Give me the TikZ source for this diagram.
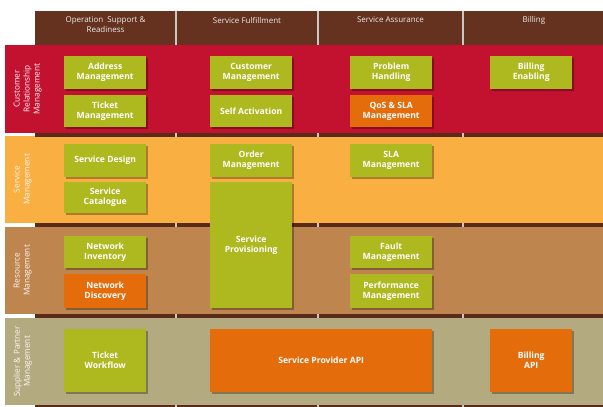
\documentclass[tikz,border=0pt]{standalone}
\usepackage{fontspec}
\setmainfont{Open Sans}
\usetikzlibrary{shadows}
\definecolor{hdrbrown}{HTML}{65321F}
\definecolor{linebrown}{HTML}{5A2A1A}
\definecolor{sepgray}{HTML}{C8C8C8}
\definecolor{crmred}{HTML}{C3122F}
\definecolor{smorange}{HTML}{FAAF42}
\definecolor{rmbrown}{HTML}{BE854F}
\definecolor{spkhaki}{HTML}{B3AB7F}
\definecolor{boxgreen}{HTML}{AEB81F}
\definecolor{boxorange}{HTML}{E46C0B}

\begin{document}
\begin{tikzpicture}[x=1pt,y=-1pt,
  box/.style={anchor=north west, minimum width=82pt, inner sep=1pt, align=center,
    text=white, font=\bfseries\fontsize{8.6}{10}\selectfont,
    drop shadow={shadow xshift=1.5pt, shadow yshift=-1.5pt, fill=black, opacity=0.3}},
  gbox/.style={box, fill=boxgreen},
  obox/.style={box, fill=boxorange},
  colhead/.style={text=white!92!black, align=center, font=\fontsize{8}{10}\selectfont},
  rowlbl/.style={rotate=90, anchor=north, inner sep=1pt, align=center,
    text=white!88!pink, font=\fontsize{8.2}{10}\selectfont}]
\useasboundingbox (0,0) rectangle (603,407);

% header
\fill[hdrbrown] (35,11) rectangle (603,45);
\foreach \x in {176,318,463}{
\draw[sepgray, line width=1.5pt] (\x,11)--(\x,45);
}
\node[colhead] (hops) at (105.5,25) {Operation\ \ Support \&\\Readiness};
\node[colhead] (hful) at (247,20) {Service Fulfillment};
\node[colhead] (hass) at (390.5,20) {Service Assurance};
\node[colhead] (hbil) at (534,20) {Billing};

% rows
\foreach \ytop/\ybot/\col in {45/133/crmred, 136/223/smorange, 227/314/rmbrown, 318/405/spkhaki}{
\fill[\col] (5,\ytop) rectangle (603,\ybot);
}
\foreach \y in {133,223,314,405}{
\fill[linebrown] (35,\y) rectangle (603,\y+3.5);
\foreach \x in {176,318,463}{
\draw[sepgray, line width=1.2pt] (\x,\y)--(\x,\y+3.5);
}
}
\node[rowlbl] (crm) at (12.5,89) {Customer\\Relationship\\Management};
\node[rowlbl] (sm) at (12.5,179.5) {Service\\Management};
\node[rowlbl] (rm) at (12.5,270.5) {Resource\\Management};
\node[rowlbl] (sp) at (12.5,361.5) {Supplier \& Partner\\Management};

% customer relationship management
\node[gbox, minimum height=33pt] (addr) at (64,56) {Address\\Management};
\node[gbox, minimum height=32pt] (tick) at (64,95) {Ticket\\Management};
\node[gbox, minimum height=33pt] (cust) at (210,56) {Customer\\Management};
\node[gbox, minimum height=32pt] (self) at (210,95) {Self Activation};
\node[gbox, minimum height=33pt] (prob) at (350,56) {Problem\\Handling};
\node[obox, minimum height=32pt] (qos) at (350,95) {QoS \& SLA\\Management};
\node[gbox, minimum height=33pt] (bena) at (490,56) {Billing\\Enabling};

% service management
\node[gbox, minimum height=33pt] (sdes) at (64,144) {Service Design};
\node[gbox, minimum height=31pt] (scat) at (64,182) {Service\\Catalogue};
\node[gbox, minimum height=33pt] (ordr) at (210,144) {Order\\Management};
\node[gbox, minimum height=126pt] (prov) at (210,182) {Service\\Provisioning};
\node[gbox, minimum height=33pt] (sla) at (350,144) {SLA\\Management};

% resource management
\node[gbox, minimum height=32pt] (ninv) at (64,236) {Network\\Inventory};
\node[obox, minimum height=34pt] (ndis) at (64,274) {Network\\Discovery};
\node[gbox, minimum height=32pt] (flt) at (350,236) {Fault\\Management};
\node[gbox, minimum height=34pt] (perf) at (350,274) {Performance\\Management};

% supplier & partner management
\node[gbox, minimum height=63pt] (twf) at (64,329) {Ticket\\Workflow};
\node[obox, minimum height=63pt, minimum width=222pt] (spapi) at (210,329) {Service Provider API};
\node[obox, minimum height=63pt] (bapi) at (490,329) {Billing\\API};
\end{tikzpicture}
\end{document}
